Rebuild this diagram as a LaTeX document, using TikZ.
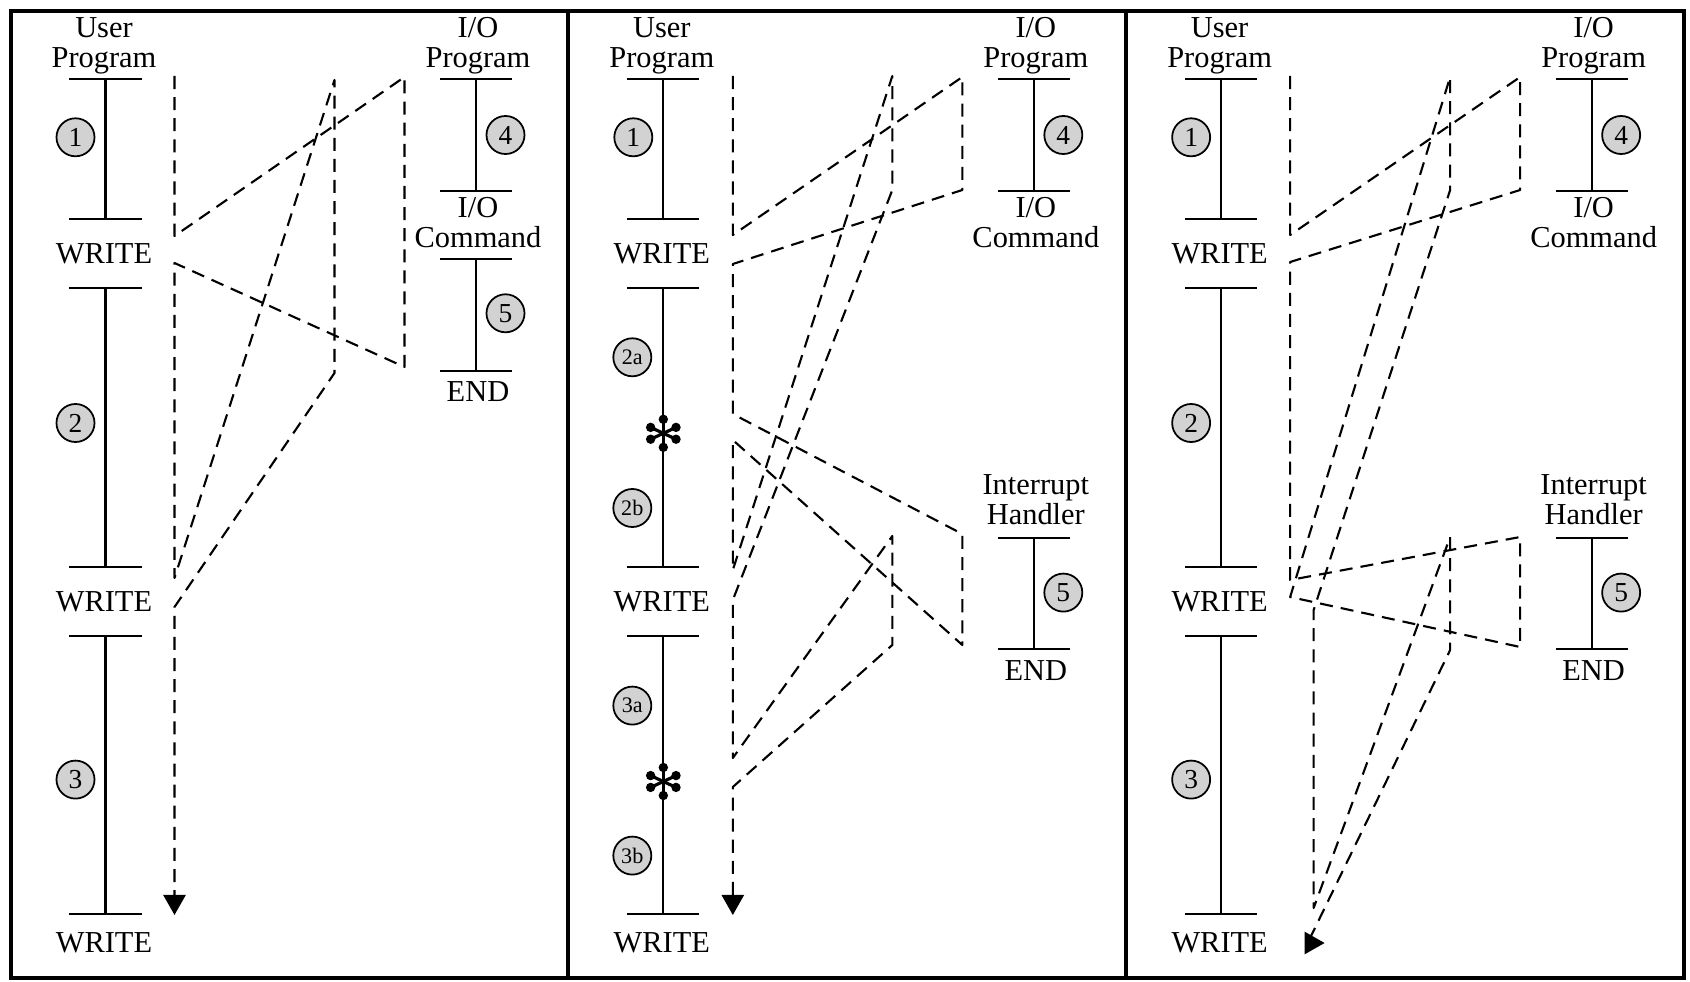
\documentclass[tikz,border=0pt]{standalone}
\usepackage{fontspec}
\setmainfont{Liberation Serif}
\usetikzlibrary{arrows.meta}

\newcommand{\bartick}[1]{\draw[bar] ([xshift=-0.36cm]#1) -- ([xshift=0.36cm]#1);}
\newcommand{\intmark}[1]{%
	\foreach \a in {90,25,-25,-90,-155,155}{%
		\draw[line width=0.9pt] (#1) -- ++(\a:0.13cm);
		\fill (#1) ++(\a:0.14cm) circle (0.047cm);
	}}

\begin{document}
\begin{tikzpicture}[x=0.01cm,y=-0.01cm,
	lbl/.style={font=\fontsize{8.65}{8.5}\selectfont, align=center, inner sep=0pt},
	bar/.style={line width=0.6pt},
	flow/.style={line width=0.6pt, line join=round, dash pattern=on 3.7pt off 2.3pt},
	arr/.style={-{Triangle[length=5.7pt,width=6.3pt]}},
	num/.style={circle, draw, line width=0.5pt, fill=gray!35, minimum size=0.38cm, inner sep=0pt, font=\fontsize{7.8}{7.8}\selectfont},
	subnum/.style={num, font=\fontsize{6.3}{6.3}\selectfont},
	frame/.style={line width=1.1pt}]
	\useasboundingbox (0,0) rectangle (1690,982);
	\draw[frame] (11,11) rectangle (1684,978);
	\draw[frame] (568,11) -- (568,978);
	\draw[frame] (1126,11) -- (1126,978);

	% what the three panels share
	\foreach \p/\s in {a/0cm, b/5.575cm, c/11.15cm}{
		\begin{scope}[xshift=\s]
			\node[lbl] (\p-user) at (104,46) {User\\Program};
			\node[lbl] (\p-iop) at (478,46) {I/O\\Program};
			\node[lbl] (\p-ioc) at (478,223) {I/O\\Command};
			\foreach \y [count=\i] in {79.3,219,288.3,566.7,636,914}
				\coordinate (\p-t\i) at (105.5,\y);
			\foreach \i in {1,...,6}
				\bartick{\p-t\i}
			\draw[bar] (\p-t1) -- (\p-t2) (\p-t3) -- (\p-t4) (\p-t5) -- (\p-t6);
			\node[lbl] (\p-w1) at (104,253.3) {WRITE};
			\node[lbl] (\p-w2) at (104,601.9) {WRITE};
			\node[lbl] (\p-w3) at (104,943) {WRITE};
			\node[num] (\p-n1) at (75.5,137.3) {1};
			\coordinate (\p-io1) at (476.4,79.3);
			\coordinate (\p-io2) at (476.4,190.7);
			\bartick{\p-io1}
			\bartick{\p-io2}
			\draw[bar] (\p-io1) -- (\p-io2);
			\node[num] (\p-n4) at (505.5,135) {4};
		\end{scope}
	}

	\foreach \p/\s in {b/5.575cm, c/11.15cm}{
		\begin{scope}[xshift=\s]
			\node[lbl] (\p-ih) at (478,500) {Interrupt\\Handler};
			\coordinate (\p-ih1) at (476.4,537.8);
			\coordinate (\p-ih2) at (476.4,648.9);
			\bartick{\p-ih1}
			\bartick{\p-ih2}
			\draw[bar] (\p-ih1) -- (\p-ih2);
			\node[num] (\p-n5) at (505.5,592.6) {5};
			\node[lbl] (\p-end) at (478,670.4) {END};
		\end{scope}
	}

	% no interrupts
	\node[num] (a-n2) at (75.5,423) {2};
	\node[num] (a-n3) at (75.5,779.6) {3};
	\coordinate (a-io3) at (476.4,259.3);
	\coordinate (a-io4) at (476.4,370.7);
	\bartick{a-io3}
	\bartick{a-io4}
	\draw[bar] (a-io3) -- (a-io4);
	\node[num] (a-n5) at (505.5,313.3) {5};
	\node[lbl] (a-end) at (478,391.7) {END};

	\coordinate (a-u0) at (174.5,76);
	\coordinate (a-w1o) at (174.5,236);
	\coordinate (a-r1t) at (404.5,77);
	\coordinate (a-r1b) at (404.5,367);
	\coordinate (a-w1i) at (174.5,263);
	\coordinate (a-w2o) at (174.5,578);
	\coordinate (a-m1t) at (334.5,80);
	\coordinate (a-m1b) at (334.5,373);
	\coordinate (a-w2i) at (174.5,607);
	\coordinate (a-fin) at (174.5,915);
	\draw[flow,arr] (a-u0) -- (a-w1o) -- (a-r1t) -- (a-r1b) -- (a-w1i) -- (a-w2o)
		-- (a-m1t) -- (a-m1b) -- (a-w2i) -- (a-fin);

	% short I/O wait
	\begin{scope}[xshift=5.575cm]
		\node[subnum] (b-n2a) at (74.5,357.3) {2a};
		\coordinate (b-x1) at (105.5,433.3);
		\intmark{b-x1}
		\node[subnum] (b-n2b) at (74.5,508) {2b};
		\node[subnum] (b-n3a) at (74.5,705.6) {3a};
		\coordinate (b-x2) at (105.5,781.5);
		\intmark{b-x2}
		\node[subnum] (b-n3b) at (74.5,855.6) {3b};

		\coordinate (b-u0) at (175,76);
		\coordinate (b-w1o) at (175,235);
		\coordinate (b-r1t) at (404.5,77);
		\coordinate (b-r1b) at (404.5,190);
		\coordinate (b-w1i) at (175,264);
		\coordinate (b-i1o) at (175,414);
		\coordinate (b-r2t) at (404.5,534);
		\coordinate (b-r2b) at (404.5,645);
		\coordinate (b-i1i) at (175,440);
		\coordinate (b-w2o) at (175,570);
		\coordinate (b-m1t) at (334.5,76);
		\coordinate (b-m1b) at (334.5,190);
		\coordinate (b-w2i) at (175,600);
		\coordinate (b-i2o) at (175,758);
		\coordinate (b-m2t) at (334.5,536);
		\coordinate (b-m2b) at (334.5,645);
		\coordinate (b-i2i) at (175,787);
		\coordinate (b-fin) at (175,915);
		\draw[flow,arr] (b-u0) -- (b-w1o) -- (b-r1t) -- (b-r1b) -- (b-w1i) -- (b-i1o)
			-- (b-r2t) -- (b-r2b) -- (b-i1i) -- (b-w2o) -- (b-m1t) -- (b-m1b) -- (b-w2i)
			-- (b-i2o) -- (b-m2t) -- (b-m2b) -- (b-i2i) -- (b-fin);
	\end{scope}

	% long I/O wait
	\begin{scope}[xshift=11.15cm]
		\node[num] (c-n2) at (75.5,423) {2};
		\node[num] (c-n3) at (75.5,779.6) {3};

		\coordinate (c-u0) at (174.5,76);
		\coordinate (c-w1o) at (174.5,235);
		\coordinate (c-r1t) at (404.5,77);
		\coordinate (c-r1b) at (404.5,190);
		\coordinate (c-w1i) at (174.5,262);
		\coordinate (c-w2o) at (174.5,580);
		\coordinate (c-r2t) at (404.5,537);
		\coordinate (c-r2b) at (404.5,647);
		\coordinate (c-i1i) at (174.5,597);
		\coordinate (c-m1t) at (334.5,77);
		\coordinate (c-m1b) at (334.5,190);
		\coordinate (c-w2i) at (198,610);
		\coordinate (c-w3o) at (198,908);
		\coordinate (c-m2t) at (334.5,537);
		\coordinate (c-m2b) at (334.5,650);
		\coordinate (c-w3i) at (192,943);
		\coordinate (c-fin) at (209,943);
		\draw[flow,arr] (c-u0) -- (c-w1o) -- (c-r1t) -- (c-r1b) -- (c-w1i) -- (c-w2o)
			-- (c-r2t) -- (c-r2b) -- (c-i1i) -- (c-m1t) -- (c-m1b) -- (c-w2i) -- (c-w3o)
			-- (c-m2t) -- (c-m2b) -- (c-w3i) -- (c-fin);
	\end{scope}
\end{tikzpicture}
\end{document}
